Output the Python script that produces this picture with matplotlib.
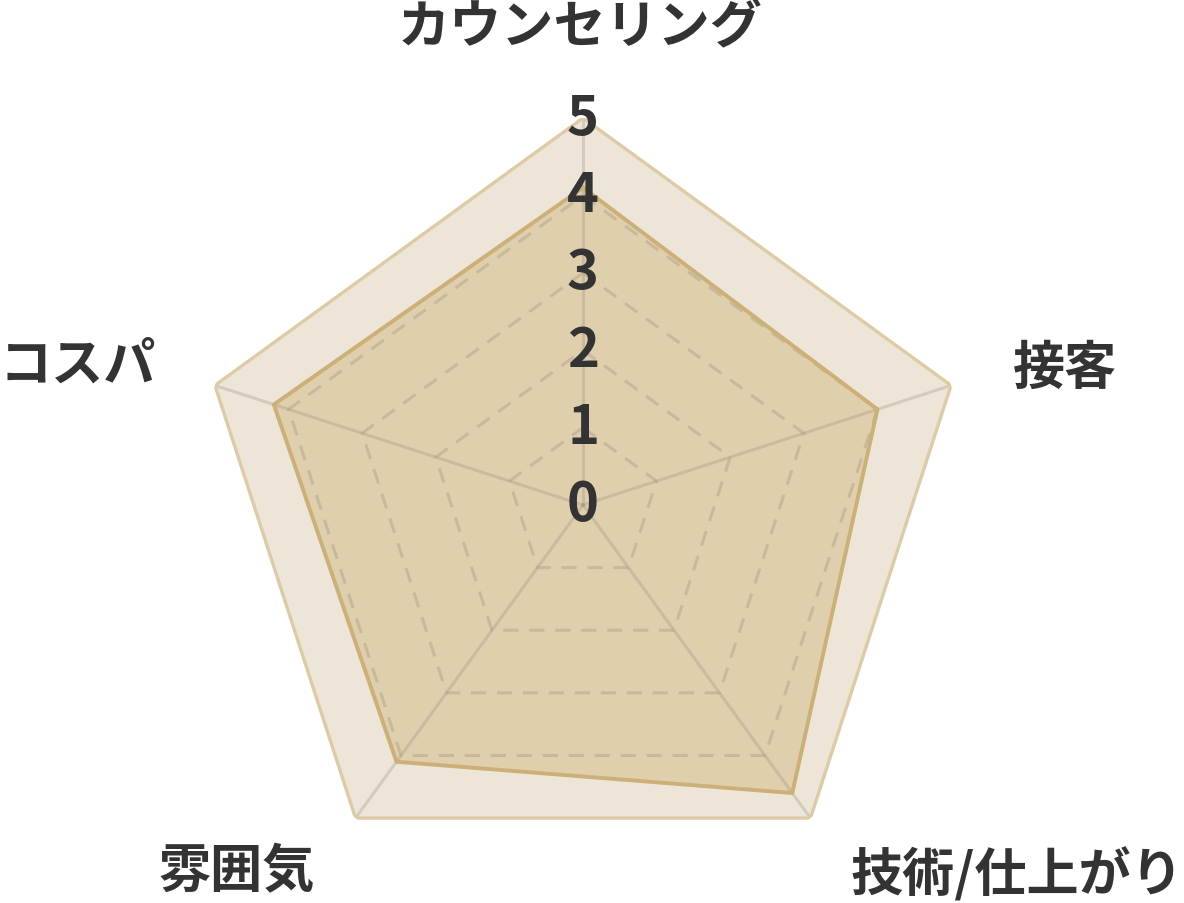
import numpy as np
import matplotlib.pyplot as plt

plt.rcParams['font.family'] = ['Noto Sans CJK JP', 'DejaVu Sans']

categories = ['カウンセリング', '接客', '技術/仕上がり', '雰囲気', 'コスパ']
scores = [4.1, 4.0, 4.6, 4.1, 4.2]
max_scores = [5, 5, 5, 5, 5]
ticks = [0, 1, 2, 3, 4, 5]

# label placement relative to the outer vertex (pixels)
label_offsets = [(-3, 92), (62, 18), (40, -56), (-41, -53), (-59, 21)]
label_align = ['center', 'left', 'left', 'right', 'right']

n = len(categories)
angles = np.linspace(0, 2 * np.pi, n, endpoint=False)
closed = np.append(angles, angles[0])

fig = plt.figure(figsize=(11.84, 9.04), dpi=100)
ax = fig.add_axes([196 / 1184, 11 / 904, 774 / 1184, 774 / 904], projection='polar')
ax.set_theta_offset(np.pi / 2)
ax.set_theta_direction(-1)
ax.set_ylim(0, 5)
ax.axis('off')

# outer (max) area
outer = max_scores + max_scores[:1]
ax.fill(closed, outer, color='#EDE5D7', zorder=1)
ax.plot(closed, outer, color='#DCCBA6', lw=2.4, zorder=4)

# data area
vals = scores + scores[:1]
ax.fill(closed, vals, color='#DFCFAD', zorder=2)
ax.plot(closed, vals, color='#CDAF78', lw=2.8, zorder=4)

# spokes and dashed grid
for a in angles:
    ax.plot([a, a], [0, 5], color='#9A9080', alpha=0.3, lw=2.2, zorder=3)
for t in ticks[1:-1]:
    ax.plot(closed, [t] * (n + 1), color='#A89A80', alpha=0.4, lw=2.2,
            ls=(0, (5, 3.5)), zorder=3)

for t in ticks:
    ax.text(0, t, str(t), ha='center', va='center', fontsize=39,
            fontweight='bold', color='#333333', zorder=6)

for a, cat, off, ha in zip(angles, categories, label_offsets, label_align):
    ax.annotate(cat, xy=(a, 5), xytext=off, textcoords='offset pixels',
                ha=ha, va='center', fontsize=37.5, fontweight='bold',
                color='#333333', annotation_clip=False)

fig.savefig('out.png', dpi=100)
